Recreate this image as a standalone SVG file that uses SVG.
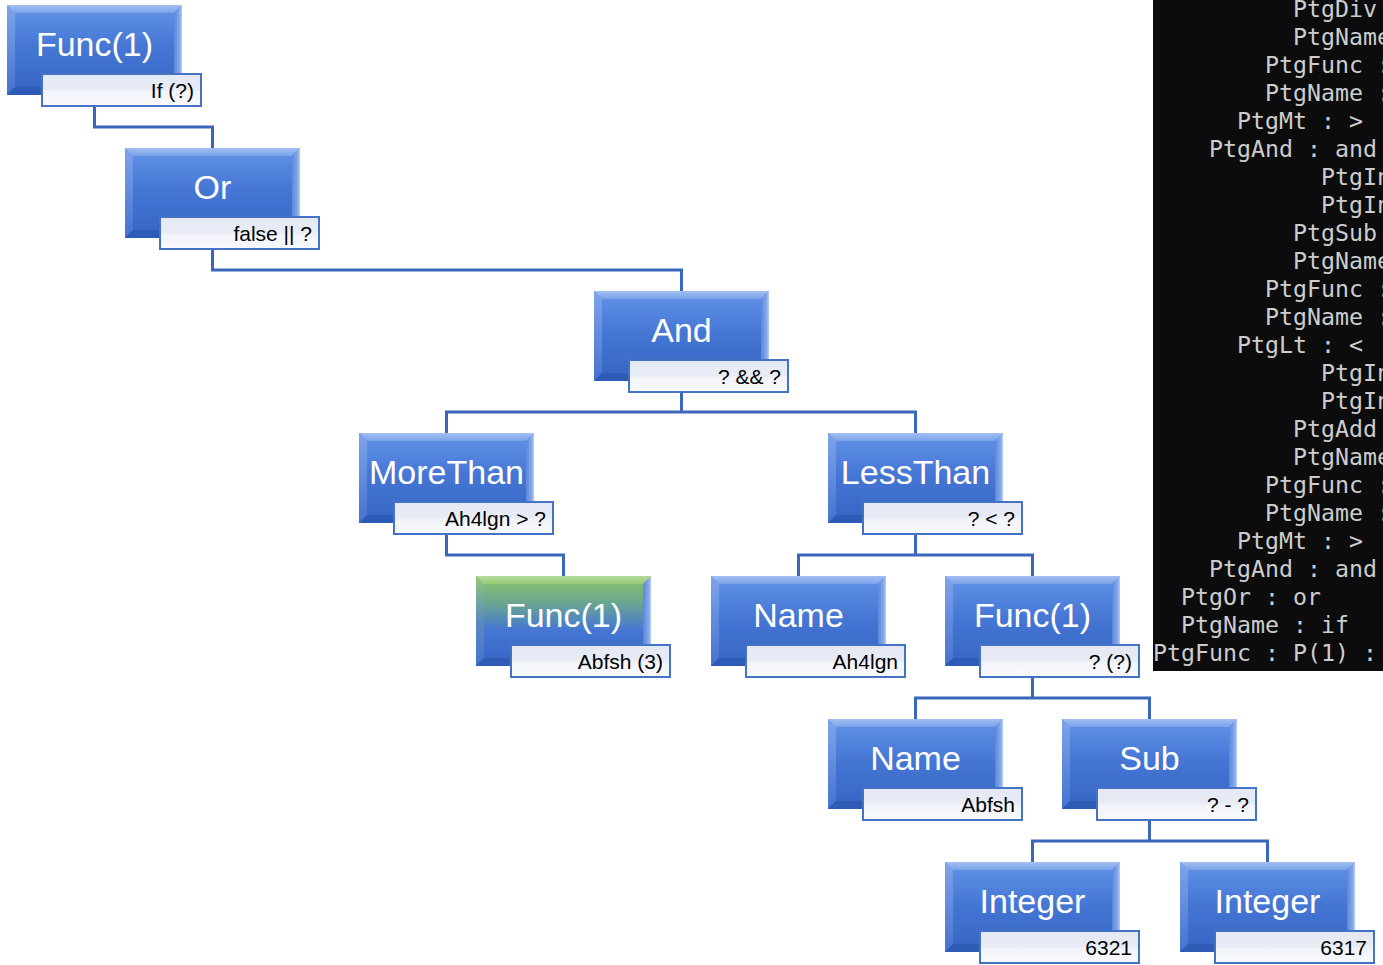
<svg xmlns="http://www.w3.org/2000/svg" xmlns:xlink="http://www.w3.org/1999/xlink" width="1383" height="965" viewBox="0 0 1383 965">
<style>
.title{font-family:"Liberation Sans",Arial,sans-serif;font-size:34px;fill:#ffffff;text-anchor:middle}
.ltxt{font-family:"Liberation Sans",Arial,sans-serif;font-size:21px;fill:#000000;text-anchor:end}
.lbl{fill:url(#lblGrad);stroke:#4472c4;stroke-width:2}
.conn{fill:none;stroke:#3b67bb;stroke-width:3;stroke-linejoin:miter}
.term{font-family:"DejaVu Sans Mono","Liberation Mono",monospace;font-size:23.25px;fill:#cccccc}
</style>
<defs>
<linearGradient id="faceGrad" x1="0" y1="0" x2="0" y2="1">
<stop offset="0" stop-color="#6394e8"/>
<stop offset="0.45" stop-color="#4677d5"/>
<stop offset="1" stop-color="#3664c3"/>
</linearGradient>
<linearGradient id="greenGrad" x1="0" y1="0" x2="0" y2="1">
<stop offset="0" stop-color="#8cc468"/>
<stop offset="0.3" stop-color="#6aa690"/>
<stop offset="0.6" stop-color="#4677d5"/>
<stop offset="1" stop-color="#3664c3"/>
</linearGradient>
<linearGradient id="topGrad" x1="0" y1="0" x2="0" y2="1">
<stop offset="0" stop-color="#a3bff2"/>
<stop offset="1" stop-color="#7aa2ea"/>
</linearGradient>
<linearGradient id="gTopGrad" x1="0" y1="0" x2="0" y2="1">
<stop offset="0" stop-color="#b6dc9c"/>
<stop offset="1" stop-color="#98cb78"/>
</linearGradient>
<linearGradient id="leftGrad" x1="0" y1="0" x2="0" y2="1">
<stop offset="0" stop-color="#7ea4ea"/>
<stop offset="1" stop-color="#4572d0"/>
</linearGradient>
<linearGradient id="gLeftGrad" x1="0" y1="0" x2="0" y2="1">
<stop offset="0" stop-color="#94c878"/>
<stop offset="0.5" stop-color="#5b8ac0"/>
<stop offset="1" stop-color="#4572d0"/>
</linearGradient>
<linearGradient id="rightGrad" x1="0" y1="0" x2="1" y2="0">
<stop offset="0" stop-color="#5a88dc"/>
<stop offset="0.7" stop-color="#86a9ea"/>
<stop offset="1" stop-color="#b8cdf3"/>
</linearGradient>
<linearGradient id="lblGrad" x1="0" y1="0" x2="0" y2="1">
<stop offset="0" stop-color="#e3e8f3"/>
<stop offset="0.5" stop-color="#e8ecf6"/>
<stop offset="0.55" stop-color="#f2f4fa"/>
<stop offset="1" stop-color="#f8f9fc"/>
</linearGradient>
<g id="box">
<rect width="175" height="90" fill="url(#faceGrad)"/>
<polygon points="0,0 175,0 167,8 8,8" fill="url(#topGrad)"/>
<polygon points="0,0 8,8 8,82 0,90" fill="url(#leftGrad)"/>
<polygon points="175,0 175,90 167,82 167,8" fill="url(#rightGrad)"/>
<polygon points="0,90 8,82 167,82 175,90" fill="#2e5bb6"/>
</g>
<g id="gbox">
<rect width="175" height="90" fill="url(#greenGrad)"/>
<polygon points="0,0 175,0 167,8 8,8" fill="url(#gTopGrad)"/>
<polygon points="0,0 8,8 8,82 0,90" fill="url(#gLeftGrad)"/>
<polygon points="175,0 175,90 167,82 167,8" fill="url(#rightGrad)"/>
<polygon points="0,90 8,82 167,82 175,90" fill="#2e5bb6"/>
</g>
</defs>
<rect width="1383" height="965" fill="#ffffff"/>

<g id="connectors">
<path class="conn" d="M94.5,60 V127 H212.5 V148"/>
<path class="conn" d="M212.5,200 V270 H681.5 V291"/>
<path class="conn" d="M681.5,340 V412 M446.5,433 V412 H915.5 V433"/>
<path class="conn" d="M446.5,480 V555 H563.5 V576"/>
<path class="conn" d="M915.5,480 V555 M798.5,576 V555 H1032.5 V576"/>
<path class="conn" d="M1032.5,620 V698 M915.5,719 V698 H1149.5 V719"/>
<path class="conn" d="M1149.5,760 V841 M1032.5,862 V841 H1267.5 V862"/>
</g>

<g id="terminal">
<rect x="1153" y="0" width="230" height="671" fill="#0c0c0c"/>
<text class="term" x="1293" y="17">PtgDiv</text>
<text class="term" x="1293" y="45">PtgName :</text>
<text class="term" x="1265" y="73">PtgFunc :</text>
<text class="term" x="1265" y="101">PtgName :</text>
<text class="term" x="1237" y="129">PtgMt : &gt;</text>
<text class="term" x="1209" y="157">PtgAnd : and</text>
<text class="term" x="1321" y="185">PtgInt</text>
<text class="term" x="1321" y="213">PtgInt</text>
<text class="term" x="1293" y="241">PtgSub</text>
<text class="term" x="1293" y="269">PtgName :</text>
<text class="term" x="1265" y="297">PtgFunc :</text>
<text class="term" x="1265" y="325">PtgName :</text>
<text class="term" x="1237" y="353">PtgLt : &lt;</text>
<text class="term" x="1321" y="381">PtgInt</text>
<text class="term" x="1321" y="409">PtgInt</text>
<text class="term" x="1293" y="437">PtgAdd</text>
<text class="term" x="1293" y="465">PtgName :</text>
<text class="term" x="1265" y="493">PtgFunc :</text>
<text class="term" x="1265" y="521">PtgName :</text>
<text class="term" x="1237" y="549">PtgMt : &gt;</text>
<text class="term" x="1209" y="577">PtgAnd : and</text>
<text class="term" x="1181" y="605">PtgOr : or</text>
<text class="term" x="1181" y="633">PtgName : if</text>
<text class="term" x="1153" y="661">PtgFunc : P(1) :</text>
</g>

<g id="node-func-root" transform="translate(7,5)">
<use href="#box"/>
<text class="title" x="87.5" y="51">Func(1)</text>
<rect class="lbl" x="35" y="69" width="159" height="32"/>
<text class="ltxt" x="187" y="93">If (?)</text>
</g>
<g id="node-or" transform="translate(125,148)">
<use href="#box"/>
<text class="title" x="87.5" y="51">Or</text>
<rect class="lbl" x="35" y="69" width="159" height="32"/>
<text class="ltxt" x="187" y="93">false || ?</text>
</g>
<g id="node-and" transform="translate(594,291)">
<use href="#box"/>
<text class="title" x="87.5" y="51">And</text>
<rect class="lbl" x="35" y="69" width="159" height="32"/>
<text class="ltxt" x="187" y="93">? &amp;&amp; ?</text>
</g>
<g id="node-morethan" transform="translate(359,433)">
<use href="#box"/>
<text class="title" x="87.5" y="51">MoreThan</text>
<rect class="lbl" x="35" y="69" width="159" height="32"/>
<text class="ltxt" x="187" y="93">Ah4lgn &gt; ?</text>
</g>
<g id="node-lessthan" transform="translate(828,433)">
<use href="#box"/>
<text class="title" x="87.5" y="51">LessThan</text>
<rect class="lbl" x="35" y="69" width="159" height="32"/>
<text class="ltxt" x="187" y="93">? &lt; ?</text>
</g>
<g id="node-func-green" transform="translate(476,576)">
<use href="#gbox"/>
<text class="title" x="87.5" y="51">Func(1)</text>
<rect class="lbl" x="35" y="69" width="159" height="32"/>
<text class="ltxt" x="187" y="93">Abfsh (3)</text>
</g>
<g id="node-name1" transform="translate(711,576)">
<use href="#box"/>
<text class="title" x="87.5" y="51">Name</text>
<rect class="lbl" x="35" y="69" width="159" height="32"/>
<text class="ltxt" x="187" y="93">Ah4lgn</text>
</g>
<g id="node-func2" transform="translate(945,576)">
<use href="#box"/>
<text class="title" x="87.5" y="51">Func(1)</text>
<rect class="lbl" x="35" y="69" width="159" height="32"/>
<text class="ltxt" x="187" y="93">? (?)</text>
</g>
<g id="node-name2" transform="translate(828,719)">
<use href="#box"/>
<text class="title" x="87.5" y="51">Name</text>
<rect class="lbl" x="35" y="69" width="159" height="32"/>
<text class="ltxt" x="187" y="93">Abfsh</text>
</g>
<g id="node-sub" transform="translate(1062,719)">
<use href="#box"/>
<text class="title" x="87.5" y="51">Sub</text>
<rect class="lbl" x="35" y="69" width="159" height="32"/>
<text class="ltxt" x="187" y="93">? - ?</text>
</g>
<g id="node-int1" transform="translate(945,862)">
<use href="#box"/>
<text class="title" x="87.5" y="51">Integer</text>
<rect class="lbl" x="35" y="69" width="159" height="32"/>
<text class="ltxt" x="187" y="93">6321</text>
</g>
<g id="node-int2" transform="translate(1180,862)">
<use href="#box"/>
<text class="title" x="87.5" y="51">Integer</text>
<rect class="lbl" x="35" y="69" width="159" height="32"/>
<text class="ltxt" x="187" y="93">6317</text>
</g>
</svg>
